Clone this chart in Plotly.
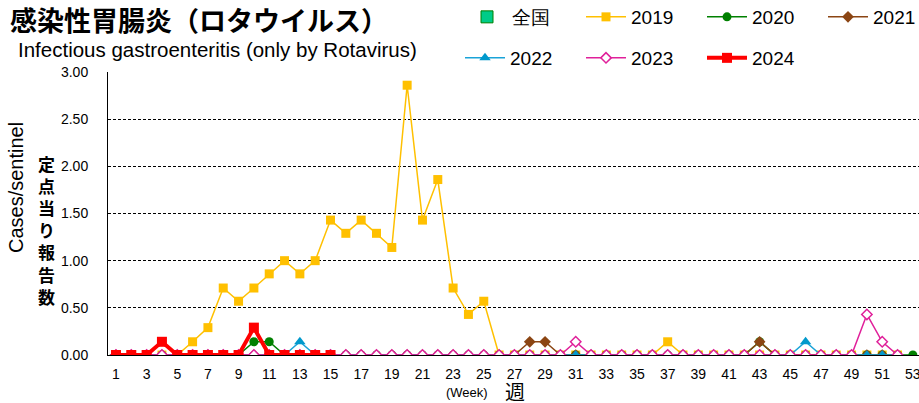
import plotly.graph_objects as go

weeks52 = list(range(1, 53))
weeks53 = list(range(1, 54))
weeks2024 = list(range(1, 16))

national = [0] * 15

v2019 = [0, 0, 0, 0, 0, 0.14, 0.29, 0.71, 0.57, 0.71,
         0.86, 1.00, 0.86, 1.00, 1.43, 1.29, 1.43, 1.29, 1.14, 2.86,
         1.43, 1.86, 0.71, 0.43, 0.57, 0, 0, 0, 0, 0,
         0, 0, 0, 0, 0, 0, 0.14, 0, 0, 0,
         0, 0, 0, 0, 0, 0, 0, 0, 0, 0,
         0, 0]
v2020 = [0, 0, 0, 0, 0, 0, 0, 0, 0, 0.14,
         0.14, 0, 0, 0, 0, 0, 0, 0, 0, 0,
         0, 0, 0, 0, 0, 0, 0, 0, 0, 0,
         0, 0, 0, 0, 0, 0, 0, 0, 0, 0,
         0, 0, 0.14, 0, 0, 0, 0, 0, 0, 0,
         0, 0, 0]
v2021 = [0, 0, 0, 0, 0, 0, 0, 0, 0, 0,
         0, 0, 0, 0, 0, 0, 0, 0, 0, 0,
         0, 0, 0, 0, 0, 0, 0, 0.14, 0.14, 0,
         0, 0, 0, 0, 0, 0, 0, 0, 0, 0,
         0, 0, 0.14, 0, 0, 0, 0, 0, 0, 0,
         0, 0]
v2022 = [0, 0, 0, 0, 0, 0, 0, 0, 0, 0,
         0, 0, 0.14, 0, 0, 0, 0, 0, 0, 0,
         0, 0, 0, 0, 0, 0, 0, 0, 0, 0,
         0, 0, 0, 0, 0, 0, 0, 0, 0, 0,
         0, 0, 0, 0, 0, 0.14, 0, 0, 0, 0,
         0, 0]
v2023 = [0, 0, 0, 0, 0, 0, 0, 0, 0, 0,
         0, 0, 0, 0, 0, 0, 0, 0, 0, 0,
         0, 0, 0, 0, 0, 0, 0, 0, 0, 0,
         0.14, 0, 0, 0, 0, 0, 0, 0, 0, 0,
         0, 0, 0, 0, 0, 0, 0, 0, 0, 0.43,
         0.14, 0]
v2024 = [0, 0, 0, 0.14, 0, 0, 0, 0, 0, 0.29,
         0, 0, 0, 0, 0]

xtick_vals = list(range(1, 54, 2))
ytick_vals = [0, 0.5, 1.0, 1.5, 2.0, 2.5, 3.0]
ytick_text = ["0.00", "0.50", "1.00", "1.50", "2.00", "2.50", "3.00"]

FONT = "Liberation Sans, Arial, sans-serif"
JFONT = "Noto Sans CJK JP, sans-serif"

fig = go.Figure()

fig.add_trace(go.Bar(x=weeks2024, y=national, name="全国",
                     marker=dict(color="#00CC88", line=dict(color="#008000", width=1)),
                     legend="legend"))
fig.add_trace(go.Scatter(x=weeks52, y=v2019, name="2019", mode="lines+markers",
                         line=dict(color="#FFC000", width=1.5),
                         marker=dict(symbol="square", size=9, color="#FFC000"),
                         legend="legend2"))
fig.add_trace(go.Scatter(x=weeks53, y=v2020, name="2020", mode="lines+markers",
                         line=dict(color="#008000", width=1.5),
                         marker=dict(symbol="circle", size=9, color="#008000"),
                         legend="legend3"))
fig.add_trace(go.Scatter(x=weeks52, y=v2021, name="2021", mode="lines+markers",
                         line=dict(color="#8B4513", width=1.5),
                         marker=dict(symbol="diamond", size=9, color="#8B4513"),
                         legend="legend4"))
fig.add_trace(go.Scatter(x=weeks52, y=v2022, name="2022", mode="lines+markers",
                         line=dict(color="#1AA3D8", width=1.5),
                         marker=dict(symbol="triangle-up", size=10, color="#0099CC"),
                         legend="legend5"))
fig.add_trace(go.Scatter(x=weeks52, y=v2023, name="2023", mode="lines+markers",
                         line=dict(color="#E0209A", width=1.5),
                         marker=dict(symbol="diamond", size=8, color="white",
                                     line=dict(color="#E0209A", width=1.5)),
                         legend="legend6"))
fig.add_trace(go.Scatter(x=weeks2024, y=v2024, name="2024", mode="lines+markers",
                         line=dict(color="#FF0000", width=4),
                         marker=dict(symbol="square", size=10, color="#FF0000"),
                         legend="legend7"))


def leg(xpx, ypx):
    return dict(orientation="h", xref="container", yref="container",
                x=xpx / 919, y=1 - ypx / 403, xanchor="left", yanchor="middle",
                font=dict(family=FONT, size=19), bgcolor="rgba(0,0,0,0)", itemwidth=40)


fig.update_layout(
    width=919, height=403,
    margin=dict(l=108, r=0, t=72, b=48, autoexpand=False),
    paper_bgcolor="white", plot_bgcolor="white",
    font=dict(family=FONT, size=14, color="black"),
    showlegend=True,
    legend=leg(462, 17), legend2=leg(581, 17), legend3=leg(702, 17), legend4=leg(823, 17),
    legend5=leg(460, 58), legend6=leg(581, 58), legend7=leg(702, 58),
    xaxis=dict(range=[0.48, 53.4], tickmode="array", tickvals=xtick_vals,
               showgrid=False, showline=True, linecolor="black", linewidth=1,
               zeroline=False, ticks="", tickfont=dict(family=FONT, size=14),
               ticklabelstandoff=6, automargin=False, ticklabeloverflow="allow"),
    yaxis=dict(range=[0, 3.0], tickmode="array", tickvals=ytick_vals, ticktext=ytick_text,
               showgrid=True, gridcolor="black", gridwidth=1, griddash="3px,2px",
               showline=True, linecolor="black", linewidth=1, zeroline=False,
               ticks="", tickfont=dict(family=FONT, size=14), ticklabelstandoff=16,
               automargin=False),
    annotations=[
        dict(text="<b>感染性胃腸炎（ロタウイルス）</b>", xref="paper", yref="paper",
             x=-108 / 811, y=1 + (72 - 19) / 283, xanchor="left", yanchor="middle",
             xshift=8, showarrow=False, font=dict(family=JFONT, size=27, color="black")),
        dict(text="Infectious gastroenteritis (only by Rotavirus)", xref="paper", yref="paper",
             x=-108 / 811, y=1 + (72 - 49) / 283, xanchor="left", yanchor="middle",
             xshift=16, showarrow=False, font=dict(family=FONT, size=20.5, color="black")),
        dict(text="Cases/sentinel", xref="paper", yref="paper",
             x=-108 / 811, y=(355 - 188) / 283, xanchor="center", yanchor="middle",
             xshift=16, textangle=-90, showarrow=False,
             font=dict(family=FONT, size=20, color="black")),
        dict(text="<b>定<br>点<br>当<br>り<br>報<br>告<br>数</b>", xref="paper", yref="paper",
             x=-108 / 811, y=(355 - 230) / 283, xanchor="center", yanchor="middle",
             xshift=46, showarrow=False,
             font=dict(family=JFONT, size=17, color="black")),
        dict(text="(Week)", xref="paper", yref="paper",
             x=(467 - 108) / 811, y=-(392 - 355) / 283, xanchor="center", yanchor="middle",
             showarrow=False, font=dict(family=FONT, size=13, color="black")),
        dict(text="週", xref="paper", yref="paper",
             x=(515 - 108) / 811, y=-(391 - 355) / 283, xanchor="center", yanchor="middle",
             showarrow=False, font=dict(family=JFONT, size=20, color="black")),
    ],
)

fig.write_html("out.html", config={"displayModeBar": False},
               post_script="document.body.style.margin='0';document.body.style.padding='0';")
